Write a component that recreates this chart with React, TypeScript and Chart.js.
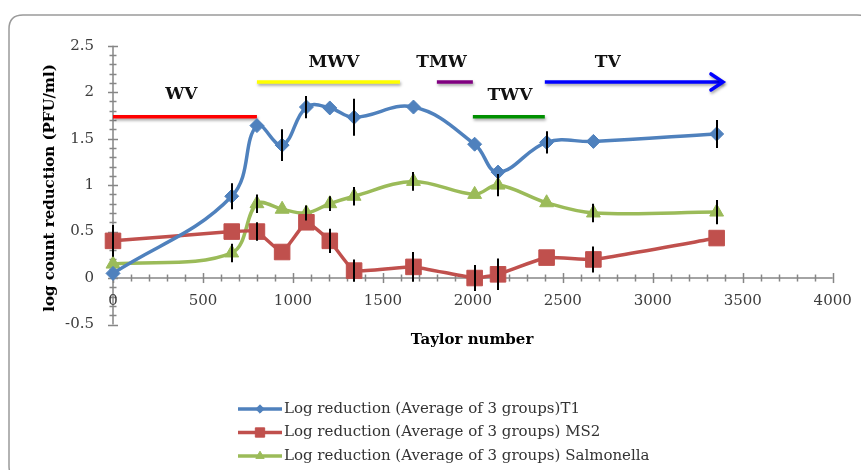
import React, { useEffect, useRef } from "react";
import { Chart, registerables } from "chart.js";
import { drawPoint } from "chart.js/helpers";

Chart.register(...registerables);

// ---- data ----
const taylorNumbers = [0, 660, 800, 940, 1075, 1205, 1340, 1670, 2010, 2140, 2410, 2670, 3355];
const t1Values = [0.05, 0.88, 1.64, 1.43, 1.84, 1.83, 1.73, 1.84, 1.44, 1.14, 1.46, 1.47, 1.55];
const ms2Values = [0.4, 0.5, 0.5, 0.28, 0.6, 0.4, 0.08, 0.12, 0.0, 0.04, 0.22, 0.2, 0.43];
const salmonellaValues = [0.15, 0.27, 0.8, 0.74, 0.7, 0.8, 0.88, 1.04, 0.9, 1.0, 0.81, 0.7, 0.71];

const t1Errors = [null, 0.14, null, 0.17, 0.12, null, 0.2, null, null, null, 0.12, null, 0.15];
const ms2Errors = [0.17, null, 0.1, null, null, 0.13, 0.12, 0.16, 0.14, 0.17, null, 0.14, null];
const salmonellaErrors = [null, 0.1, 0.1, null, 0.08, 0.08, 0.1, 0.1, null, 0.12, null, 0.1, 0.13];

const seriesLabels = [
  "Log reduction (Average of 3 groups)T1",
  "Log reduction (Average of 3 groups) MS2",
  "Log reduction (Average of 3 groups) Salmonella",
];

const xTickValues = [0, 500, 1000, 1500, 2000, 2500, 3000, 3500, 4000];
const xTickLabels = ["0", "500", "1000", "1500", "2000", "2500", "3000", "3500", "4000"];
const yTickValues = [-0.5, 0, 0.5, 1, 1.5, 2, 2.5];
const yTickLabels = ["-0.5", "0", "0.5", "1", "1.5", "2", "2.5"];
const xMinorStep = 100;
const yMinorStep = 0.1;

const xTitle = "Taylor number";
const yTitle = "log count reduction (PFU/ml)";

// flow regimes (annotation bars, in data units)
const regimeNames = ["WV", "MWV", "TMW", "TWV", "TV"];
const regimeStart = [0, 800, 1800, 2000, 2400];
const regimeEnd = [800, 1595, 2000, 2400, 3390];
const regimeLevel = [1.735, 2.11, 2.11, 1.735, 2.11];
const regimeLabelX = [380, 1228, 1826, 2206, 2750];
const regimeLabelY = [1.97, 2.32, 2.32, 1.96, 2.32];

// ---- styles ----
const BLUE = "#4F81BD";
const RED = "#C0504D";
const GREEN = "#9BBB59";
const regimeColors = ["#FF0000", "#FFFF00", "#800080", "#009000", "#0000FF"];
const SERIF = "'DejaVu Serif', serif";

const seriesStyles = [
  { color: BLUE, pointStyle: "rectRot", radius: 7, tension: 0.4 },
  { color: RED, pointStyle: "rect", radius: 11, tension: 0.12 },
  { color: GREEN, pointStyle: "triangle", radius: 8, tension: 0.35 },
];
const errorSets = [t1Errors, ms2Errors, salmonellaErrors];
const valueSets = [t1Values, ms2Values, salmonellaValues];

function roundRect(ctx: CanvasRenderingContext2D, x: number, y: number, w: number, h: number, r: number) {
  ctx.beginPath();
  ctx.moveTo(x + r, y);
  ctx.lineTo(x + w - r, y);
  ctx.quadraticCurveTo(x + w, y, x + w, y + r);
  ctx.lineTo(x + w, y + h - r);
  ctx.quadraticCurveTo(x + w, y + h, x + w - r, y + h);
  ctx.lineTo(x + r, y + h);
  ctx.quadraticCurveTo(x, y + h, x, y + h - r);
  ctx.lineTo(x, y + r);
  ctx.quadraticCurveTo(x, y, x + r, y);
  ctx.closePath();
}

const customPlugin = {
  id: "custom",
  beforeDraw(chart: any) {
    const ctx = chart.ctx as CanvasRenderingContext2D;
    ctx.save();
    ctx.fillStyle = "#ffffff";
    ctx.fillRect(0, 0, chart.width, chart.height);
    ctx.strokeStyle = "#9a9a9a";
    ctx.lineWidth = 1.5;
    roundRect(ctx, 9, 15, 862, 465, 14);
    ctx.stroke();
    ctx.restore();
  },
  beforeDatasetsDraw(chart: any) {
    const ctx = chart.ctx as CanvasRenderingContext2D;
    const xs = chart.scales.x;
    const ys = chart.scales.y;
    const x0 = xs.getPixelForValue(0);
    const y0 = ys.getPixelForValue(0);
    ctx.save();
    ctx.strokeStyle = "#868686";
    ctx.lineWidth = 1.5;
    // y axis
    ctx.beginPath();
    ctx.moveTo(x0, ys.getPixelForValue(ys.max));
    ctx.lineTo(x0, ys.getPixelForValue(ys.min));
    ctx.stroke();
    const nY = Math.round((ys.max - ys.min) / yMinorStep);
    for (let i = 0; i <= nY; i++) {
      const v = ys.min + i * yMinorStep;
      const py = Math.round(ys.getPixelForValue(v)) + 0.5;
      const major = Math.abs(v / 0.5 - Math.round(v / 0.5)) < 1e-6;
      const len = major ? 5 : 3.5;
      ctx.beginPath();
      ctx.moveTo(x0 - len, py);
      ctx.lineTo(x0 + len, py);
      ctx.stroke();
    }
    // x axis at y = 0
    ctx.beginPath();
    ctx.moveTo(xs.getPixelForValue(xs.min), y0);
    ctx.lineTo(xs.getPixelForValue(xs.max), y0);
    ctx.stroke();
    const nX = Math.round((xs.max - xs.min) / xMinorStep);
    for (let i = 0; i <= nX; i++) {
      const v = xs.min + i * xMinorStep;
      const px = Math.round(xs.getPixelForValue(v)) + 0.5;
      const major = v % 500 === 0;
      const len = major ? 5 : 3.5;
      ctx.beginPath();
      ctx.moveTo(px, y0 - len);
      ctx.lineTo(px, y0 + len);
      ctx.stroke();
    }

    // tick labels
    ctx.fillStyle = "#3c3c3c";
    ctx.font = `15px ${SERIF}`;
    ctx.textAlign = "right";
    ctx.textBaseline = "middle";
    yTickValues.forEach((v, i) => {
      ctx.fillText(yTickLabels[i], x0 - 19, ys.getPixelForValue(v));
    });
    ctx.textAlign = "center";
    ctx.textBaseline = "middle";
    xTickValues.forEach((v, i) => {
      ctx.fillText(xTickLabels[i], xs.getPixelForValue(v), y0 + 23);
    });

    // axis titles
    ctx.fillStyle = "#000000";
    ctx.font = `bold 15px ${SERIF}`;
    ctx.textAlign = "center";
    ctx.fillText(xTitle, 472, 340);
    ctx.save();
    ctx.translate(50, 188);
    ctx.rotate(-Math.PI / 2);
    ctx.fillText(yTitle, 0, 0);
    ctx.restore();

    // regime annotation bars
    regimeNames.forEach((name, i) => {
      const xa = xs.getPixelForValue(regimeStart[i]);
      const xb = xs.getPixelForValue(regimeEnd[i]);
      const yy = ys.getPixelForValue(regimeLevel[i]);
      ctx.save();
      ctx.shadowColor = "rgba(0,0,0,0.35)";
      ctx.shadowBlur = 3;
      ctx.shadowOffsetX = 1;
      ctx.shadowOffsetY = 2;
      ctx.strokeStyle = regimeColors[i];
      ctx.lineWidth = 3.5;
      ctx.lineCap = "butt";
      ctx.beginPath();
      ctx.moveTo(xa, yy);
      ctx.lineTo(xb, yy);
      ctx.stroke();
      if (i === regimeNames.length - 1) {
        ctx.lineJoin = "miter";
        ctx.lineCap = "round";
        ctx.beginPath();
        ctx.moveTo(xb - 12, yy - 8);
        ctx.lineTo(xb, yy);
        ctx.lineTo(xb - 12, yy + 8);
        ctx.stroke();
      }
      ctx.restore();
      ctx.save();
      ctx.fillStyle = "#111111";
      ctx.font = `bold 17px ${SERIF}`;
      ctx.textAlign = "center";
      ctx.textBaseline = "middle";
      ctx.fillText(name, xs.getPixelForValue(regimeLabelX[i]), ys.getPixelForValue(regimeLabelY[i]));
      ctx.restore();
    });
    ctx.restore();
  },
  afterDatasetsDraw(chart: any) {
    const ctx = chart.ctx as CanvasRenderingContext2D;
    const xs = chart.scales.x;
    const ys = chart.scales.y;
    ctx.save();
    ctx.strokeStyle = "#000000";
    ctx.lineWidth = 2;
    errorSets.forEach((errs, s) => {
      errs.forEach((e, i) => {
        if (e == null) return;
        const px = Math.round(xs.getPixelForValue(taylorNumbers[i]));
        const v = valueSets[s][i];
        ctx.beginPath();
        ctx.moveTo(px, ys.getPixelForValue(v + e));
        ctx.lineTo(px, ys.getPixelForValue(v - e));
        ctx.stroke();
      });
    });
    ctx.restore();

    // legend
    ctx.save();
    const lx0 = 238;
    const lx1 = 282;
    const rowY = [409, 432.5, 456];
    seriesLabels.forEach((label, i) => {
      const st = seriesStyles[i];
      ctx.strokeStyle = st.color;
      ctx.lineWidth = 3.5;
      ctx.beginPath();
      ctx.moveTo(lx0, rowY[i]);
      ctx.lineTo(lx1, rowY[i]);
      ctx.stroke();
      ctx.fillStyle = st.color;
      ctx.strokeStyle = st.color;
      ctx.lineWidth = 1;
      drawPoint(ctx, { pointStyle: st.pointStyle as any, radius: st.radius * 0.6, rotation: 0, borderWidth: 1 }, (lx0 + lx1) / 2, rowY[i]);
      ctx.fillStyle = "#333333";
      ctx.font = `15px ${SERIF}`;
      ctx.textAlign = "left";
      ctx.textBaseline = "middle";
      ctx.fillText(label, lx1 + 2, rowY[i]);
    });
    ctx.restore();
  },
};

export default function App() {
  const canvasRef = useRef<HTMLCanvasElement | null>(null);

  useEffect(() => {
    const canvas = canvasRef.current;
    if (!canvas) return;
    const mk = (vals: number[]) => taylorNumbers.map((x, i) => ({ x, y: vals[i] }));
    const chart = new Chart(canvas, {
      type: "line",
      data: {
        datasets: valueSets.map((vals, i) => ({
          label: seriesLabels[i],
          data: mk(vals),
          borderColor: seriesStyles[i].color,
          backgroundColor: seriesStyles[i].color,
          pointBackgroundColor: seriesStyles[i].color,
          pointBorderColor: seriesStyles[i].color,
          pointStyle: seriesStyles[i].pointStyle as any,
          pointRadius: seriesStyles[i].radius,
          pointBorderWidth: 1,
          borderWidth: 3.5,
          tension: seriesStyles[i].tension,
          fill: false,
          clip: false as any,
        })),
      },
      options: {
        animation: false,
        responsive: false,
        maintainAspectRatio: false,
        events: [],
        layout: { padding: { left: 113, right: 28.3, top: 45.7, bottom: 145.5 } },
        plugins: { legend: { display: false }, tooltip: { enabled: false }, title: { display: false } },
        scales: {
          x: { type: "linear", min: 0, max: 4000, display: false },
          y: { type: "linear", min: -0.5, max: 2.5, display: false },
        },
      },
      plugins: [customPlugin as any],
    });
    return () => chart.destroy();
  }, []);

  return (
    <div style={{ position: "fixed", left: 0, top: 0, width: 861, height: 470, background: "#fff" }}>
      <canvas ref={canvasRef} width={861} height={470} style={{ width: 861, height: 470, display: "block" }} />
    </div>
  );
}
